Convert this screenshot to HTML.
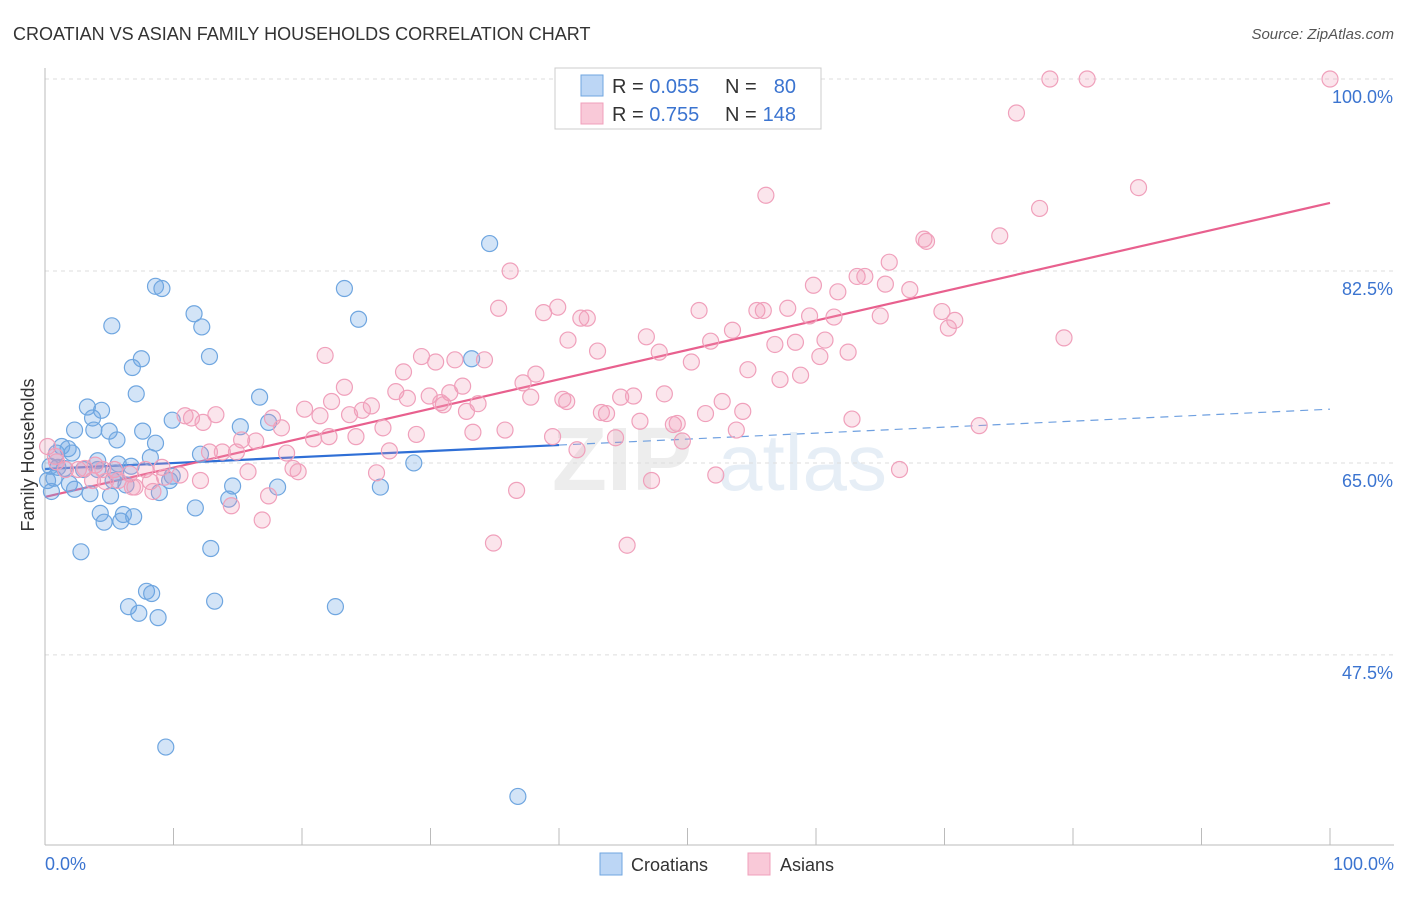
<!DOCTYPE html>
<html><head><meta charset="utf-8"><style>
body{margin:0;background:#fff;font-family:"Liberation Sans",sans-serif;}
svg text{font-family:"Liberation Sans",sans-serif;}
</style></head><body>
<svg id="chart" width="1406" height="892" viewBox="0 0 1406 892" xmlns="http://www.w3.org/2000/svg">
<text x="13" y="40" font-size="18" fill="#333">CROATIAN VS ASIAN FAMILY HOUSEHOLDS CORRELATION CHART</text>
<text x="1394" y="39" font-size="15" fill="#555" text-anchor="end" font-style="italic">Source: ZipAtlas.com</text>
<g opacity="0.35">
<text x="552" y="490" font-size="90" font-weight="bold" fill="#ccc">ZIP</text>
<text x="718" y="490" font-size="80" fill="#b8cfe8">atlas</text>
</g>
<g id="grid"></g>
<g id="axes"></g>
<g id="trend"></g>
<g id="points"></g>
<text transform="translate(34,455) rotate(-90)" font-size="18" fill="#333" text-anchor="middle">Family Households</text>
<text x="45" y="870" font-size="18" fill="#3b74d0">0.0%</text>
<text x="1394" y="870" font-size="18" fill="#3b74d0" text-anchor="end">100.0%</text>
<g>
<rect x="555" y="68" width="266" height="61" fill="#fff" stroke="#ccc"/>
<rect x="581" y="75" width="22" height="21" fill="#bcd6f5" stroke="#6fa6e0"/>
<rect x="581" y="103" width="22" height="21" fill="#f9c9d8" stroke="#f0a0bb"/>
<text x="612" y="93" font-size="20" fill="#333">R = <tspan fill="#3b74d0">0.055</tspan></text>
<text x="725" y="93" font-size="20" fill="#333">N = </text><text x="796" y="93" font-size="20" fill="#3b74d0" text-anchor="end">80</text>
<text x="612" y="121" font-size="20" fill="#333">R = <tspan fill="#3b74d0"> 0.755</tspan></text>
<text x="725" y="121" font-size="20" fill="#333">N = </text><text x="796" y="121" font-size="20" fill="#3b74d0" text-anchor="end">148</text>
</g>
<g>
<rect x="600" y="853" width="22" height="22" fill="#bcd6f5" stroke="#6fa6e0"/>
<text x="631" y="871" font-size="18" fill="#333">Croatians</text>
</g>
<g>
<rect x="748" y="853" width="22" height="22" fill="#f9c9d8" stroke="#f0a0bb"/>
<text x="780" y="871" font-size="18" fill="#333">Asians</text>
</g>
</svg>
<script>
const yTicks=[100,82.5,65,47.5];
const yTickLabels=["100.0%","82.5%","65.0%","47.5%"];
const xTicks=[0,10,20,30,40,50,60,70,80,90,100];
const croatX=[34.6,8.6,9.1,23.3,11.6,24.4,5.2,12.2,12.8,7.5,33.2,6.8,7.1,16.7,3.3,4.4,9.9,3.7,17.4,15.2,2.3,3.8,5.0,7.6,5.6,8.6,1.3,1.8,0.9,2.1,12.1,8.2,4.1,5.7,6.7,28.7,0.4,1.0,3.0,4.1,5.5,9.9,0.7,9.7,5.3,1.9,6.3,14.6,18.1,26.1,2.3,0.5,3.5,8.9,5.1,14.3,11.7,4.3,6.1,6.9,4.6,5.9,12.9,2.8,7.9,8.3,13.2,6.5,22.6,7.3,8.8,9.4,36.8,0.2,1.5];
const croatY=[85.0,81.1,80.9,80.9,78.6,78.1,77.5,77.4,74.7,74.5,74.5,73.7,71.3,71.0,70.1,69.8,68.9,69.1,68.7,68.3,68.0,68.0,67.9,67.9,67.1,66.8,66.5,66.3,65.9,65.9,65.8,65.5,65.2,64.9,64.7,65.0,64.7,64.6,64.4,64.4,64.1,63.8,63.6,63.4,63.4,63.1,63.0,62.9,62.8,62.8,62.6,62.4,62.2,62.3,62.0,61.7,60.9,60.4,60.3,60.1,59.6,59.7,57.2,56.9,53.3,53.1,52.4,51.9,51.9,51.3,50.9,39.1,34.6,63.4,64.5];
const asianX=[78.2,81.1,100,75.6,85.1,56.1,77.4,68.4,68.6,74.3,36.2,65.7,63.2,63.8,67.3,61.7,59.8,65.4,35.3,38.8,39.9,41.7,42.2,50.9,55.4,55.9,57.8,59.5,61.4,65.0,69.8,70.8,70.3,53.5,46.8,51.8,56.8,58.4,60.7,62.5,60.3,47.8,40.7,43.0,21.8,31.9,79.3,34.2,27.9,29.3,30.4,38.2,37.2,50.3,54.7,57.2,58.8,23.3,27.3,32.5,31.5,28.2,29.9,31.0,33.7,37.8,40.3,44.8,45.8,48.2,40.6,20.2,21.4,22.3,24.7,25.4,23.7,30.8,32.8,43.3,43.7,51.4,52.7,54.3,62.8,10.9,11.4,13.3,17.7,18.4,12.3,26.3,28.9,33.3,35.8,39.5,46.3,48.9,49.2,53.8,49.6,44.4,72.7,15.3,20.9,24.2,22.1,16.4,12.8,13.8,14.9,41.4,26.8,18.8,0.2,0.8,1.6,2.6,3.9,5.4,6.6,7.8,9.1,10.5,12.1,5.7,3.7,4.7,7.0,8.2,9.3,15.8,19.3,19.7,25.8,52.2,66.5,47.2,6.8,8.4,17.4,14.5,16.9,36.7,34.9,45.3,0.9,3.1,4.5];
const asianY=[100,100,100,96.9,90.1,89.4,88.2,85.4,85.2,85.7,82.5,83.3,82.0,82.0,80.8,80.6,81.2,81.3,79.1,78.7,79.2,78.2,78.2,78.9,78.9,78.9,79.1,78.4,78.3,78.4,78.8,78.0,77.3,77.1,76.5,76.1,75.8,76.0,76.2,75.1,74.7,75.1,76.2,75.2,74.8,74.4,76.4,74.4,73.3,74.7,74.2,73.1,72.3,74.2,73.5,72.6,73.0,71.9,71.5,72.0,71.4,70.9,71.1,70.3,70.4,71.0,70.8,71.0,71.1,71.3,70.6,69.9,69.3,70.6,69.8,70.2,69.4,70.5,69.7,69.6,69.5,69.5,70.6,69.7,69.0,69.3,69.1,69.4,69.1,68.2,68.7,68.2,67.6,67.8,68.0,67.4,68.8,68.5,68.6,68.0,67.0,67.3,68.4,67.1,67.2,67.4,67.4,67.0,66.0,66.0,66.0,66.2,66.1,65.9,66.5,65.6,64.4,64.4,64.8,64.4,64.0,64.4,64.6,63.9,63.4,63.4,63.4,63.3,62.8,63.3,63.7,64.2,64.5,64.2,64.1,63.9,64.4,63.4,62.8,62.4,62.0,61.1,59.8,62.5,57.7,57.5,65.1,64.5,64.4];
const croatTrend=[64.45,69.9];
const asianTrend=[61.9,88.7];
const NS="http://www.w3.org/2000/svg";
const X0=45,X1=1330,YTOP=79,PXU=10.97;
function sx(v){return X0+(X1-X0)*v/100;}
function sy(v){return YTOP+(100-v)*PXU;}
function mk(tag,attrs,parent){const e=document.createElementNS(NS,tag);for(const k in attrs)e.setAttribute(k,attrs[k]);parent.appendChild(e);return e;}
const grid=document.getElementById('grid'),axes=document.getElementById('axes');
yTicks.forEach((t,i)=>{
 const l=mk('line',{x1:45,x2:1394,y1:sy(t),y2:sy(t),stroke:'#ddd','stroke-dasharray':'4,4'},grid);
 
 
 const tx=mk('text',{x:1393,y:sy(t)+24,'font-size':18,fill:'#3b74d0','text-anchor':'end'},axes);
 tx.textContent=yTickLabels[i];
 
 
});
const ax=mk('line',{x1:45,x2:1394,y1:845,y2:845,stroke:'#bbb'},axes);


const ay=mk('line',{x1:45,x2:45,y1:68,y2:845,stroke:'#bbb'},axes);


xTicks.forEach(t=>{
 const l=mk('line',{x1:sx(t),x2:sx(t),y1:828,y2:845,stroke:'#bbb'},axes);
 
 
});
const pts=document.getElementById('points');
function drawSeries(xs,ys,fill,stroke,name){
 xs.forEach((x,i)=>{
  const c=mk('circle',{cx:sx(x),cy:sy(ys[i]),r:8,fill:fill,stroke:stroke,'stroke-width':1.2},pts);
  
  
 });
}
drawSeries(croatX,croatY,'rgba(110,165,230,0.3)','#6fa6e0','croatian-point');
drawSeries(asianX,asianY,'rgba(240,150,180,0.25)','#f0a0bb','asian-point');
const tr=document.getElementById('trend');
function ty(tr2,x){return tr2[0]+(tr2[1]-tr2[0])*x/100;}
const b1=mk('line',{x1:sx(0),y1:sy(ty(croatTrend,0)),x2:sx(40),y2:sy(ty(croatTrend,40)),stroke:'#2f6fd6','stroke-width':2.2},tr);


const b2=mk('line',{x1:sx(40),y1:sy(ty(croatTrend,40)),x2:sx(100),y2:sy(ty(croatTrend,100)),stroke:'#6fa0e0','stroke-width':1.2,'stroke-dasharray':'8,6'},tr);


const p1=mk('line',{x1:sx(0),y1:sy(ty(asianTrend,0)),x2:sx(100),y2:sy(ty(asianTrend,100)),stroke:'#e8608e','stroke-width':2.2},tr);


</script>
</body></html>
